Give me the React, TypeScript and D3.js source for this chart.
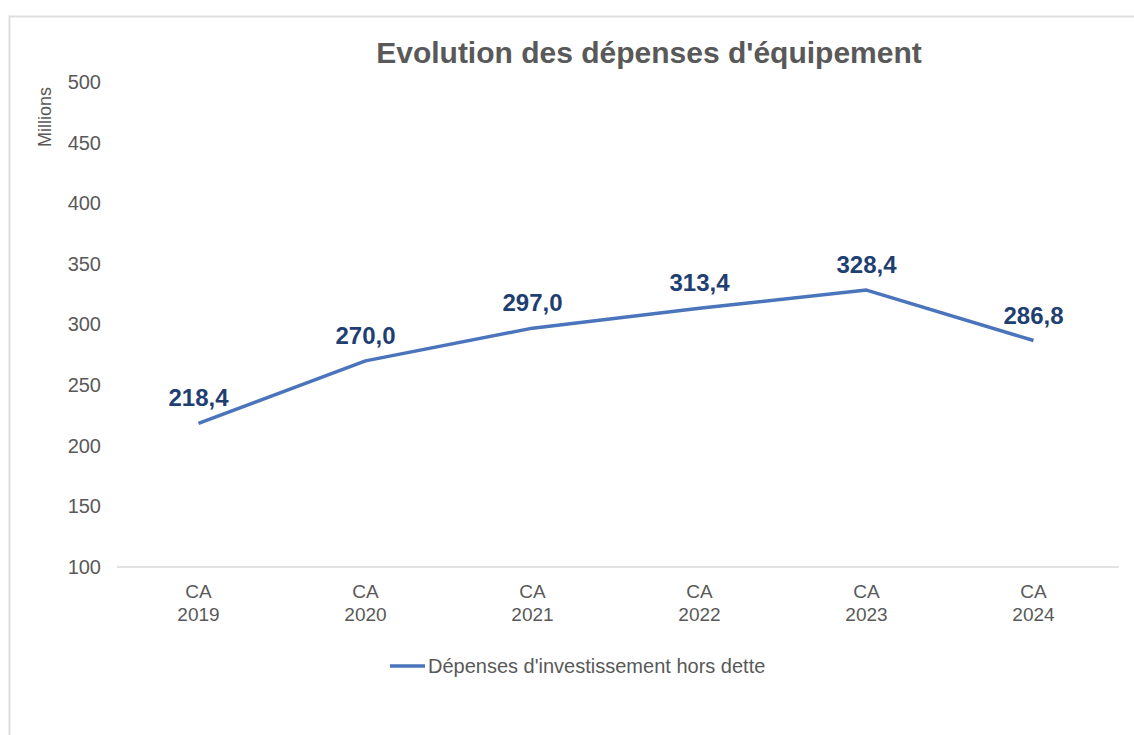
import { useEffect, useRef } from "react";
import * as d3 from "d3";

const categories = ["CA 2019", "CA 2020", "CA 2021", "CA 2022", "CA 2023", "CA 2024"];
const values = [218.4, 270.0, 297.0, 313.4, 328.4, 286.8];
const yTicks = [100, 150, 200, 250, 300, 350, 400, 450, 500];
const title = "Evolution des dépenses d'équipement";
const seriesName = "Dépenses d'investissement hors dette";
const yUnit = "Millions";

const W = 1134;
const H = 735;

export default function App() {
  const svgRef = useRef<SVGSVGElement>(null);

  useEffect(() => {
    const el = svgRef.current;
    if (!el) return;
    d3.select(el).selectAll("*").remove();
    const svg = d3.select(el).attr("viewBox", `0 0 ${W} ${H}`);
    const font = "'Liberation Sans', Arial, sans-serif";

    // frame
    svg.append("rect").attr("x", 9.5).attr("y", 16.5).attr("width", W + 10).attr("height", H + 10)
      .attr("fill", "#fff").attr("stroke", "#dedede").attr("stroke-width", 2);

    const x = d3.scaleBand().domain(categories).range([117, 1119]);
    const y = d3.scaleLinear().domain([100, 500]).range([567, 82]);
    const cx = (c: string) => (x(c) as number) + x.bandwidth() / 2 - 2;

    svg.append("text").attr("x", 649).attr("y", 63).attr("text-anchor", "middle")
      .attr("font-family", font).attr("font-weight", "bold").attr("font-size", 30)
      .attr("fill", "#595959").text(title);

    // y axis labels
    const yAxis = svg.append("g").attr("transform", "translate(101,0)")
      .call(d3.axisLeft(y).tickValues(yTicks).tickSize(0).tickPadding(0));
    yAxis.select(".domain").remove();
    yAxis.selectAll("text").attr("font-family", font).attr("font-size", 20).attr("fill", "#595959");

    svg.append("text").attr("transform", "translate(51,117) rotate(-90)")
      .attr("text-anchor", "middle").attr("font-family", font).attr("font-size", 18)
      .attr("fill", "#595959").text(yUnit);

    // x axis
    svg.append("line").attr("x1", 117).attr("x2", 1119).attr("y1", y(100)).attr("y2", y(100))
      .attr("stroke", "#d9d9d9").attr("stroke-width", 1.5);
    const xl = svg.append("g").selectAll("text").data(categories).join("text")
      .attr("x", d => cx(d))
      .attr("text-anchor", "middle").attr("font-family", font).attr("font-size", 19).attr("fill", "#595959");
    xl.append("tspan").attr("x", d => cx(d)).attr("y", 598).text(d => d.split(" ")[0]);
    xl.append("tspan").attr("x", d => cx(d)).attr("y", 621).text(d => d.split(" ")[1]);

    // line
    const pts = categories.map((c, i) => ({ c, v: values[i] }));
    const line = d3.line<{ c: string; v: number }>().x(d => cx(d.c)).y(d => y(d.v));
    svg.append("path").datum(pts).attr("d", line).attr("fill", "none")
      .attr("stroke", "#4a74bb").attr("stroke-width", 3.5).attr("stroke-linejoin", "round");

    svg.append("g").selectAll("text").data(pts).join("text")
      .attr("x", d => cx(d.c))
      .attr("y", d => y(d.v) - 17)
      .attr("text-anchor", "middle").attr("font-family", font).attr("font-weight", "bold")
      .attr("font-size", 24).attr("fill", "#1f3f73")
      .text(d => d.v.toFixed(1).replace(".", ","));

    // legend
    svg.append("line").attr("x1", 390).attr("x2", 425).attr("y1", 666).attr("y2", 666)
      .attr("stroke", "#4a74bb").attr("stroke-width", 3.5);
    svg.append("text").attr("x", 428).attr("y", 673).attr("font-family", font).attr("font-size", 20)
      .attr("fill", "#595959").text(seriesName);
  }, []);

  return (
    <svg ref={svgRef} width={W} height={H}
      style={{ position: "absolute", left: 0, top: 0, display: "block", background: "#fff" }} />
  );
}
